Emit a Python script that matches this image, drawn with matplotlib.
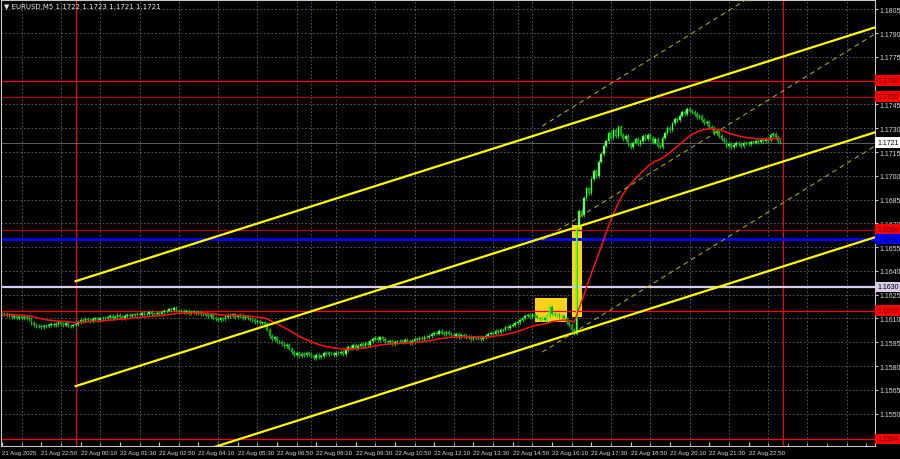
import numpy as np
import pandas as pd
import matplotlib
matplotlib.use("Agg")
import matplotlib.pyplot as plt
from matplotlib.patches import Rectangle
from matplotlib.transforms import blended_transform_factory

plt.rcParams['font.family'] = ['Liberation Sans Narrow', 'Liberation Sans', 'DejaVu Sans']

BASE = 1.1600
FIRST_OPEN = 1.1613

# EURUSD M5 closes, pips above BASE, one row per hour (21 Aug 21:30 .. 22 Aug 23:55)
close_pips = [
    12.5, 13, 12, 12.5, 11, 11.5,
    10.5, 11, 10, 11, 10.5, 9.5, 7, 6, 5, 5.5, 4.5, 5.5,
    5, 6, 6.5, 6, 6.5, 7.5, 6.5, 6, 7, 5.5, 5, 6,
    6.5, 8, 9, 8.5, 9.5, 9, 8.5, 9.5, 10, 9, 10, 10.5,
    10, 11, 11.5, 10.5, 11, 12, 11, 10.5, 11.5, 12, 11.5, 12,
    12.5, 13, 12, 13.5, 12.5, 13, 14, 13, 12.5, 13.5, 13, 14,
    14.5, 15, 16, 15.5, 16.5, 15, 14.5, 15, 14, 14.5, 13.5, 14,
    14, 13.5, 14, 12.5, 13, 12, 11.5, 12, 10.5, 9.5, 9, 10,
    9.5, 11, 12, 11.5, 12.5, 11, 11.5, 12, 10.5, 11, 10, 9.5,
    9, 8, 8.5, 7, 7.5, 6.5, 3, -1, -3, -2, -4.5, -5,
    -6, -7.5, -7, -9, -11, -13, -12, -14, -12.5, -13, -11.5, -12.5,
    -14, -15, -13, -14.5, -13.5, -12, -12.5, -11.5, -12, -13, -11.5, -12,
    -11, -12.5, -10, -8, -9, -7, -8.5, -7.5, -6, -7.5, -5.5, -6.5,
    -4, -3, -2.5, -3.5, -2, -3, -4.5, -5, -4, -6, -5, -4.5,
    -4, -5, -3.5, -4, -5.5, -4, -3, -3.5, -2.5, -3, -1.5, -2,
    -1, 0, 1, 0.5, 2, 1, 0, 1.5, 0.5, -0.5, -1, 0,
    -1.5, -0.5, -1, -2, -1.5, -3, -2, -2.5, -1.5, -3, -2, -1,
    0, 1, 0.5, 2, 1.5, 2.5, 3, 4.5, 4, 5.5, 6, 7,
    7.5, 9, 10, 11.5, 12, 11, 12.5, 11.5, 10, 9.5, 10.5, 9,
    11.5, 17, 13, 12, 12.5, 11, 11.5, 10, 8, 6, 3, 0.5,
    68, 78, 75, 86, 92, 89, 98, 103, 100, 109, 114, 119,
    122, 127, 124, 129, 125, 131, 126, 123, 125, 120, 118, 121,
    123, 120, 122, 125, 123, 126, 124, 121, 123, 119, 118, 124,
    127, 130, 129, 133, 136, 135, 138, 140, 139, 142, 141, 140,
    139, 137, 138, 135, 133, 134, 131, 130, 127, 128, 125, 123,
    122, 119, 120, 118, 119.5, 121, 120, 119, 120.5, 121, 120, 121.5,
    121, 122, 121.5, 122.5, 122, 123, 122.5, 125.5, 126.5, 124.5, 122, 121,
]
times = pd.date_range("2025-08-21 21:30", periods=len(close_pips), freq="5min")

time_labels = ["21 Aug 2025", "21 Aug 22:50", "22 Aug 00:10", "22 Aug 01:30", "22 Aug 02:50",
               "22 Aug 04:10", "22 Aug 05:30", "22 Aug 06:50", "22 Aug 08:10", "22 Aug 09:30",
               "22 Aug 10:50", "22 Aug 12:10", "22 Aug 13:30", "22 Aug 14:50", "22 Aug 16:10",
               "22 Aug 17:30", "22 Aug 18:50", "22 Aug 20:10", "22 Aug 21:30", "22 Aug 22:50"]
price_ticks = [1.1805, 1.1790, 1.1775, 1.1745, 1.1730, 1.1715, 1.1700, 1.1685, 1.1670,
               1.1655, 1.1640, 1.1625, 1.1610, 1.1595, 1.1580, 1.1565, 1.1550]

red_levels = [1.1760, 1.1615, 1.1534]
dark_red_levels = [1.1750, 1.1666]
blue_level = 1.1660
gray_level = 1.1630
last_price = 1.1721

day_lines = ["2025-08-22 00:00", "2025-08-23 00:00"]
session_lines = ["2025-08-22 08:00", "2025-08-22 15:00"]

# channel rays: (start time, start price), (anchor time, anchor price)
solid_channel = [
    (("2025-08-22 00:00", 1.16335), ("2025-08-22 23:55", 1.17747)),
    (("2025-08-22 00:00", 1.15673), ("2025-08-22 23:55", 1.17085)),
    (("2025-08-22 00:00", 1.15011), ("2025-08-22 23:55", 1.16423)),
]
dashed_channel = [
    (("2025-08-22 15:50", 1.17314), ("2025-08-22 23:55", 1.18245)),
    (("2025-08-22 15:50", 1.16595), ("2025-08-22 23:55", 1.17526)),
    (("2025-08-22 15:50", 1.15888), ("2025-08-22 23:55", 1.16819)),
]
# rectangles: start time, end time, low, high
boxes = [
    ("2025-08-22 15:35", "2025-08-22 16:40", 1.16080, 1.16229),
    ("2025-08-22 16:50", "2025-08-22 17:10", 1.16107, 1.16690),
]


def bar_of(t):
    return (pd.Timestamp(t) - times[0]) / pd.Timedelta("5min")


closes = BASE + np.array(close_pips) / 1e4
opens = np.r_[FIRST_OPEN, closes[:-1]]
WICK = 0.00012
highs = np.maximum(opens, closes) + WICK
lows = np.minimum(opens, closes) - WICK
ma = pd.Series(closes).ewm(span=28, adjust=False).mean()
x = np.arange(len(closes))

X_MAX = 355.5
fig = plt.figure(figsize=(9, 4.6), dpi=100, facecolor="black")
ax = fig.add_axes([1 / 900, 13 / 460, 874 / 900, 446 / 460], facecolor="black")
ax.set_xlim(-0.41, X_MAX)
ax.set_ylim(1.152953, 1.181091)

grid_kw = dict(color="#646464", lw=0.6, ls=(0, (2, 2.5)), zorder=0.5)
for p in price_ticks + [1.1760]:
    ax.axhline(p, **grid_kw)
for b in range(8, 356, 16):
    ax.axvline(b, **grid_kw)

for t0, t1, lo, hi in boxes:
    b0, b1 = bar_of(t0), bar_of(t1)
    ax.add_patch(Rectangle((b0, lo), b1 - b0, hi - lo, fc="#FFD21A", ec="none", zorder=1))

for t in day_lines:
    ax.axvline(bar_of(t), color="#FF0000", lw=0.8, zorder=2)
for t in session_lines:
    ax.axvline(bar_of(t), color="#2f7a1f", lw=0.7, ls=(0, (1.5, 2)), zorder=2)

for p in red_levels:
    ax.axhline(p, color="#FF0000", lw=0.9, zorder=2)
for p in dark_red_levels:
    ax.axhline(p, color="#B00000", lw=0.9, zorder=2)
ax.axhline(blue_level, color="#0000FF", lw=2.0, zorder=2)
ax.axhline(gray_level, color="#D8CCE8", lw=1.6, zorder=2)
ax.axhline(last_price, color="#707070", lw=0.6, zorder=2)

# candles
up = closes >= opens
ax.vlines(x, lows, highs, color="#00E000", lw=0.6, zorder=3)
body = np.maximum(np.abs(closes - opens), 0.00004)
ax.bar(x[up], body[up], bottom=opens[up], width=0.7, color="#90EE90",
       edgecolor="#00FF00", linewidth=0.3, zorder=3.1)
ax.bar(x[~up], body[~up], bottom=closes[~up], width=0.7, color="#1E8B1E",
       edgecolor="#00D000", linewidth=0.3, zorder=3.1)

ax.plot(x, ma, color="#FF1010", lw=1.1, zorder=4)

for ch, style in ((solid_channel, dict(color="#FFFF00", lw=1.6)),
                  (dashed_channel, dict(color="#B8B800", lw=0.7, ls=(0, (5, 4))))):
    for (t0, p0), (t1, p1) in ch:
        b0, b1 = bar_of(t0), bar_of(t1)
        slope = (p1 - p0) / (b1 - b0)
        ax.plot([b0, X_MAX + 2], [p0, p0 + slope * (X_MAX + 2 - b0)], zorder=5, **style)

for s in ax.spines.values():
    s.set_color("#C8C8C8")
    s.set_linewidth(0.8)

ax.set_xticks(np.arange(0, 320, 16))
ax.set_xticklabels(time_labels, ha="left")
ax.set_xticks(np.arange(8, 356, 8), minor=True)
ax.tick_params(axis="x", which="both", direction="in", colors="#C8C8C8", labelcolor="#D8D8D8",
               labelsize=4.4, pad=3)
ax.tick_params(axis="x", which="major", length=3)
ax.tick_params(axis="x", which="minor", length=2)
ax.yaxis.tick_right()
ax.set_yticks(price_ticks)
ax.set_yticklabels([f"{p:.4f}" for p in price_ticks])
ax.tick_params(axis="y", direction="out", length=2, colors="#C8C8C8", labelcolor="#D8D8D8",
               labelsize=5, pad=1.5)

tr = blended_transform_factory(ax.transAxes, ax.transData)
tags = [(p, "#FF0000", "#500000") for p in red_levels + dark_red_levels]
tags += [(blue_level, "#0000FF", "#000040"), (gray_level, "#D8CCE8", "#000000"),
         (last_price, "#FFFFFF", "#000000")]
for p, bg, fg in tags:
    ax.text(1.0025, p, f"{p:.4f}", transform=tr, fontsize=5, color=fg, ha="left", va="center",
            clip_on=False, zorder=6,
            bbox=dict(boxstyle="square,pad=0.25", fc=bg, ec="none"))

fig.text(4 / 900, 1 - 7 / 460, "\u25bc EURUSD,M5 1.1722 1.1723 1.1721 1.1721",
         color="#E8E8E8", fontsize=5, va="center", ha="left",
         family=["Liberation Sans Narrow", "DejaVu Sans"])

fig.savefig("out.png", dpi=100, facecolor="black")
